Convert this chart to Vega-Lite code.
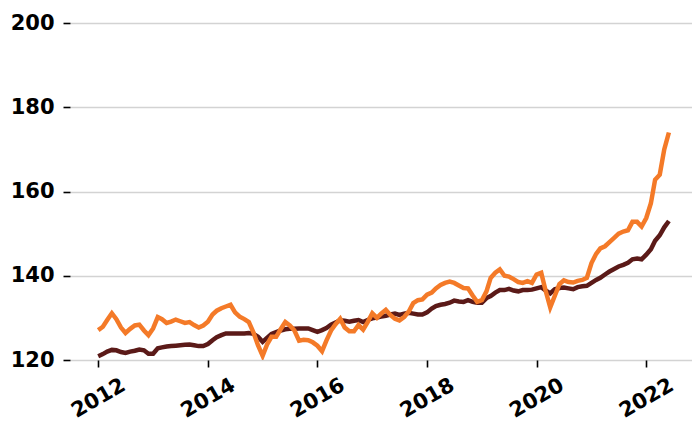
{
  "$schema": "https://vega.github.io/schema/vega-lite/v6.json",
  "autosize": "none",
  "width": 622,
  "height": 337,
  "padding": {"left": 70, "top": 23, "right": 0, "bottom": 63},
  "background": "white",
  "config": {
    "view": {"stroke": null},
    "font": "DejaVu Sans",
    "axis": {
      "labelFont": "DejaVu Sans",
      "labelFontWeight": "bold",
      "labelFontSize": 21,
      "labelColor": "#000000",
      "tickColor": "#000000",
      "tickWidth": 1.6,
      "tickSize": 7,
      "domain": false,
      "title": null
    }
  },
  "data": {
    "values": [
      {"date": "2012-01-01", "a": 120.9, "b": 127.1},
      {"date": "2012-02-01", "a": 121.4, "b": 127.9},
      {"date": "2012-03-01", "a": 122.0, "b": 129.5},
      {"date": "2012-04-01", "a": 122.4, "b": 131.1},
      {"date": "2012-05-01", "a": 122.3, "b": 129.7},
      {"date": "2012-06-01", "a": 121.9, "b": 127.7},
      {"date": "2012-07-01", "a": 121.7, "b": 126.4},
      {"date": "2012-08-01", "a": 122.0, "b": 127.4},
      {"date": "2012-09-01", "a": 122.2, "b": 128.2},
      {"date": "2012-10-01", "a": 122.5, "b": 128.4},
      {"date": "2012-11-01", "a": 122.3, "b": 127.0},
      {"date": "2012-12-01", "a": 121.5, "b": 125.9},
      {"date": "2013-01-01", "a": 121.5, "b": 127.5},
      {"date": "2013-02-01", "a": 122.8, "b": 130.2},
      {"date": "2013-03-01", "a": 123.0, "b": 129.7},
      {"date": "2013-04-01", "a": 123.2, "b": 128.8},
      {"date": "2013-05-01", "a": 123.3, "b": 129.1},
      {"date": "2013-06-01", "a": 123.4, "b": 129.6},
      {"date": "2013-07-01", "a": 123.5, "b": 129.2},
      {"date": "2013-08-01", "a": 123.6, "b": 128.8},
      {"date": "2013-09-01", "a": 123.7, "b": 129.0},
      {"date": "2013-10-01", "a": 123.5, "b": 128.3},
      {"date": "2013-11-01", "a": 123.3, "b": 127.7},
      {"date": "2013-12-01", "a": 123.3, "b": 128.2},
      {"date": "2014-01-01", "a": 123.8, "b": 129.1},
      {"date": "2014-02-01", "a": 124.7, "b": 130.8},
      {"date": "2014-03-01", "a": 125.4, "b": 131.7},
      {"date": "2014-04-01", "a": 125.9, "b": 132.3},
      {"date": "2014-05-01", "a": 126.3, "b": 132.7},
      {"date": "2014-06-01", "a": 126.3, "b": 133.1},
      {"date": "2014-07-01", "a": 126.3, "b": 131.3},
      {"date": "2014-08-01", "a": 126.3, "b": 130.3},
      {"date": "2014-09-01", "a": 126.3, "b": 129.7},
      {"date": "2014-10-01", "a": 126.4, "b": 129.0},
      {"date": "2014-11-01", "a": 126.2, "b": 126.5},
      {"date": "2014-12-01", "a": 125.5, "b": 123.5},
      {"date": "2015-01-01", "a": 124.3, "b": 121.0},
      {"date": "2015-02-01", "a": 125.3, "b": 123.8},
      {"date": "2015-03-01", "a": 126.2, "b": 125.5},
      {"date": "2015-04-01", "a": 126.6, "b": 125.5},
      {"date": "2015-05-01", "a": 127.0, "b": 127.3},
      {"date": "2015-06-01", "a": 127.3, "b": 129.0},
      {"date": "2015-07-01", "a": 127.4, "b": 128.2},
      {"date": "2015-08-01", "a": 127.4, "b": 127.0},
      {"date": "2015-09-01", "a": 127.5, "b": 124.6},
      {"date": "2015-10-01", "a": 127.5, "b": 124.8},
      {"date": "2015-11-01", "a": 127.5, "b": 124.7},
      {"date": "2015-12-01", "a": 127.1, "b": 124.2},
      {"date": "2016-01-01", "a": 126.7, "b": 123.4},
      {"date": "2016-02-01", "a": 127.1, "b": 122.1},
      {"date": "2016-03-01", "a": 127.6, "b": 124.6},
      {"date": "2016-04-01", "a": 128.4, "b": 127.0},
      {"date": "2016-05-01", "a": 128.9, "b": 128.5},
      {"date": "2016-06-01", "a": 129.4, "b": 129.8},
      {"date": "2016-07-01", "a": 129.3, "b": 127.7},
      {"date": "2016-08-01", "a": 129.1, "b": 126.8},
      {"date": "2016-09-01", "a": 129.3, "b": 126.8},
      {"date": "2016-10-01", "a": 129.5, "b": 128.3},
      {"date": "2016-11-01", "a": 129.0, "b": 127.2},
      {"date": "2016-12-01", "a": 129.5, "b": 129.0},
      {"date": "2017-01-01", "a": 129.9, "b": 131.1},
      {"date": "2017-02-01", "a": 130.1, "b": 130.0},
      {"date": "2017-03-01", "a": 130.3, "b": 131.0},
      {"date": "2017-04-01", "a": 130.5, "b": 131.9},
      {"date": "2017-05-01", "a": 130.8, "b": 130.7},
      {"date": "2017-06-01", "a": 131.0, "b": 129.8},
      {"date": "2017-07-01", "a": 130.7, "b": 129.4},
      {"date": "2017-08-01", "a": 131.0, "b": 130.2},
      {"date": "2017-09-01", "a": 131.2, "b": 131.5},
      {"date": "2017-10-01", "a": 131.0, "b": 133.5},
      {"date": "2017-11-01", "a": 130.8, "b": 134.2},
      {"date": "2017-12-01", "a": 130.8, "b": 134.4},
      {"date": "2018-01-01", "a": 131.3, "b": 135.5},
      {"date": "2018-02-01", "a": 132.2, "b": 136.0},
      {"date": "2018-03-01", "a": 132.8, "b": 137.0},
      {"date": "2018-04-01", "a": 133.1, "b": 137.8},
      {"date": "2018-05-01", "a": 133.3, "b": 138.3},
      {"date": "2018-06-01", "a": 133.6, "b": 138.6},
      {"date": "2018-07-01", "a": 134.1, "b": 138.3},
      {"date": "2018-08-01", "a": 133.9, "b": 137.7},
      {"date": "2018-09-01", "a": 133.8, "b": 137.1},
      {"date": "2018-10-01", "a": 134.2, "b": 137.0},
      {"date": "2018-11-01", "a": 133.8, "b": 135.3},
      {"date": "2018-12-01", "a": 133.6, "b": 133.8},
      {"date": "2019-01-01", "a": 133.6, "b": 134.2},
      {"date": "2019-02-01", "a": 134.7, "b": 136.3},
      {"date": "2019-03-01", "a": 135.2, "b": 139.5},
      {"date": "2019-04-01", "a": 136.0, "b": 140.7},
      {"date": "2019-05-01", "a": 136.6, "b": 141.5},
      {"date": "2019-06-01", "a": 136.6, "b": 140.0},
      {"date": "2019-07-01", "a": 136.9, "b": 139.8},
      {"date": "2019-08-01", "a": 136.5, "b": 139.2},
      {"date": "2019-09-01", "a": 136.3, "b": 138.5},
      {"date": "2019-10-01", "a": 136.6, "b": 138.3},
      {"date": "2019-11-01", "a": 136.6, "b": 138.7},
      {"date": "2019-12-01", "a": 136.7, "b": 138.3},
      {"date": "2020-01-01", "a": 137.0, "b": 140.3},
      {"date": "2020-02-01", "a": 137.3, "b": 140.7},
      {"date": "2020-03-01", "a": 136.5, "b": 136.5},
      {"date": "2020-04-01", "a": 135.8, "b": 132.5},
      {"date": "2020-05-01", "a": 136.8, "b": 135.2},
      {"date": "2020-06-01", "a": 137.1, "b": 138.0},
      {"date": "2020-07-01", "a": 137.2, "b": 138.9},
      {"date": "2020-08-01", "a": 137.0, "b": 138.5},
      {"date": "2020-09-01", "a": 136.8, "b": 138.4},
      {"date": "2020-10-01", "a": 137.3, "b": 138.8},
      {"date": "2020-11-01", "a": 137.5, "b": 139.0},
      {"date": "2020-12-01", "a": 137.6, "b": 139.5},
      {"date": "2021-01-01", "a": 138.3, "b": 143.0},
      {"date": "2021-02-01", "a": 139.0, "b": 145.2},
      {"date": "2021-03-01", "a": 139.5, "b": 146.5},
      {"date": "2021-04-01", "a": 140.3, "b": 147.0},
      {"date": "2021-05-01", "a": 141.0, "b": 148.0},
      {"date": "2021-06-01", "a": 141.6, "b": 149.0},
      {"date": "2021-07-01", "a": 142.2, "b": 150.0},
      {"date": "2021-08-01", "a": 142.6, "b": 150.5},
      {"date": "2021-09-01", "a": 143.1, "b": 150.8},
      {"date": "2021-10-01", "a": 143.9, "b": 152.8},
      {"date": "2021-11-01", "a": 144.1, "b": 152.8},
      {"date": "2021-12-01", "a": 143.9, "b": 151.7},
      {"date": "2022-01-01", "a": 145.0, "b": 153.7},
      {"date": "2022-02-01", "a": 146.3, "b": 157.2},
      {"date": "2022-03-01", "a": 148.3, "b": 162.8},
      {"date": "2022-04-01", "a": 149.6, "b": 164.0},
      {"date": "2022-05-01", "a": 151.5, "b": 170.0},
      {"date": "2022-06-01", "a": 153.0, "b": 174.0}
    ]
  },
  "encoding": {
    "x": {
      "field": "date",
      "type": "temporal",
      "scale": {
        "type": "utc",
        "domain": [
          {"year": 2011, "month": 6, "date": 27, "utc": true},
          {"year": 2022, "month": 11, "date": 2, "utc": true}
        ]
      },
      "axis": {
        "values": [
          {"year": 2012, "month": 1, "date": 1, "utc": true},
          {"year": 2014, "month": 1, "date": 1, "utc": true},
          {"year": 2016, "month": 1, "date": 1, "utc": true},
          {"year": 2018, "month": 1, "date": 1, "utc": true},
          {"year": 2020, "month": 1, "date": 1, "utc": true},
          {"year": 2022, "month": 1, "date": 1, "utc": true}
        ],
        "format": "%Y",
        "formatType": "utc",
        "grid": false,
        "labelAngle": -30,
        "labelAlign": "center",
        "labelBaseline": "middle",
        "labelPadding": 31,
        "labelDx": -2,
        "labelFlush": false,
        "labelOverlap": false
      }
    }
  },
  "layer": [
    {
      "mark": {"type": "line", "color": "#5b1a18", "strokeWidth": 4.5, "clip": true},
      "encoding": {
        "y": {
          "field": "a",
          "type": "quantitative",
          "scale": {"domain": [120, 200], "nice": false, "zero": false},
          "axis": {
            "values": [120, 140, 160, 180, 200],
            "grid": true,
            "gridColor": "#d3d3d3",
            "gridWidth": 1.5,
            "labelPadding": 9,
            "labelFlush": false
          }
        }
      }
    },
    {
      "mark": {"type": "line", "color": "#f47a28", "strokeWidth": 4.5, "clip": true},
      "encoding": {
        "y": {"field": "b", "type": "quantitative"}
      }
    }
  ]
}
